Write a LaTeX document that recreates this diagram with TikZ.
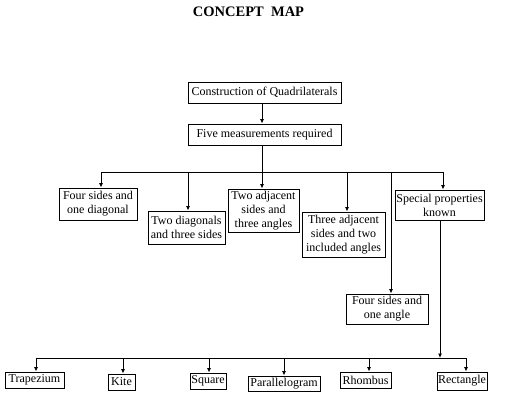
\documentclass[tikz,border=0pt]{standalone}
\usepackage{fontspec}
\setmainfont{Liberation Serif}
\usetikzlibrary{arrows.meta}
\begin{document}
\begin{tikzpicture}[x=1pt,y=-1pt,
  box/.style={draw, line width=0.9pt, inner sep=0pt, align=center,
    font=\fontsize{12}{14}\selectfont},
  ln/.style={line width=0.9pt},
  arr/.style={line width=0.9pt, -{Latex[length=4.5pt,width=4pt]}}]
\useasboundingbox (0,0) rectangle (526,405);
\node[font=\bfseries\fontsize{14.5}{16}\selectfont] (title) at (248.5,12) {CONCEPT\ \ MAP};
% top boxes
\node[box, minimum width=153pt, minimum height=21pt] (constr) at (264.5,92.5) {Construction of Quadrilaterals};
\node[box, minimum width=153pt, minimum height=21pt] (five) at (264.5,134.5) {Five measurements required};
% middle boxes
\node[box, minimum width=78pt, minimum height=32pt] (fsd) at (98,204) {Four sides and\\one diagonal};
\node[box, minimum width=77pt, minimum height=33pt] (tds) at (186.5,227.5) {Two diagonals\\and three sides};
\node[box, minimum width=71pt, minimum height=43pt] (tas) at (263.5,210.5) {Two adjacent\\sides and\\three angles};
\node[box, minimum width=83pt, minimum height=45pt] (thas) at (343.5,234.5) {Three adjacent\\sides and two\\included angles};
\node[box, minimum width=82pt, minimum height=30pt] (fsa) at (387,309) {Four sides and\\one angle};
\node[box, minimum width=89pt, minimum height=30pt] (spk) at (439.5,205) {Special properties\\known};
% bottom boxes
\node[box, minimum width=59pt, minimum height=16pt] (trap) at (34.5,380) {Trapezium};
\node[box, minimum width=27pt, minimum height=16pt] (kite) at (121.5,382) {Kite};
\node[box, minimum width=36pt, minimum height=16pt] (square) at (208,381) {Square};
\node[box, minimum width=72pt, minimum height=15pt] (para) at (284,383.5) {Parallelogram};
\node[box, minimum width=51pt, minimum height=16pt] (rhomb) at (365.5,380) {Rhombus};
\node[box, minimum width=50pt, minimum height=18pt] (rect) at (462,381) {Rectangle};
% junction coordinates
\coordinate (c1) at (262,103);
\coordinate (c2) at (262,145);
\coordinate (busL) at (101,172);
\coordinate (busR) at (443,172);
\coordinate (jtds) at (188,172);
\coordinate (jtas) at (262,172);
\coordinate (jthas) at (347,172);
\coordinate (jfsa) at (391,172);
\coordinate (s1) at (440,220);
\coordinate (s2) at (440,358);
\coordinate (b2L) at (36,358);
\coordinate (b2R) at (466,358);
\coordinate (jkite) at (123,358);
\coordinate (jsq) at (209,358);
\coordinate (jpara) at (284,358);
\coordinate (jrh) at (369,358);
% connectors
\draw[arr] (c1) -- (c1 |- five.north);
\draw[arr] (c2) -- (c2 |- tas.north);
\draw[ln] (busL) -- (busR);
\draw[arr] (busL) -- (busL |- fsd.north);
\draw[arr] (jtds) -- (jtds |- tds.north);
\draw[arr] (jthas) -- (jthas |- thas.north);
\draw[arr] (jfsa) -- (jfsa |- fsa.north);
\draw[arr] (busR) -- (busR |- spk.north);
\draw[arr] (s1) -- (s2);
\draw[ln] (b2L) -- (b2R);
\draw[arr] (b2L) -- (b2L |- trap.north);
\draw[arr] (jkite) -- (jkite |- kite.north);
\draw[arr] (jsq) -- (jsq |- square.north);
\draw[arr] (jpara) -- (jpara |- para.north);
\draw[arr] (jrh) -- (jrh |- rhomb.north);
\draw[arr] (b2R) -- (b2R |- rect.north);
\end{tikzpicture}
\end{document}
